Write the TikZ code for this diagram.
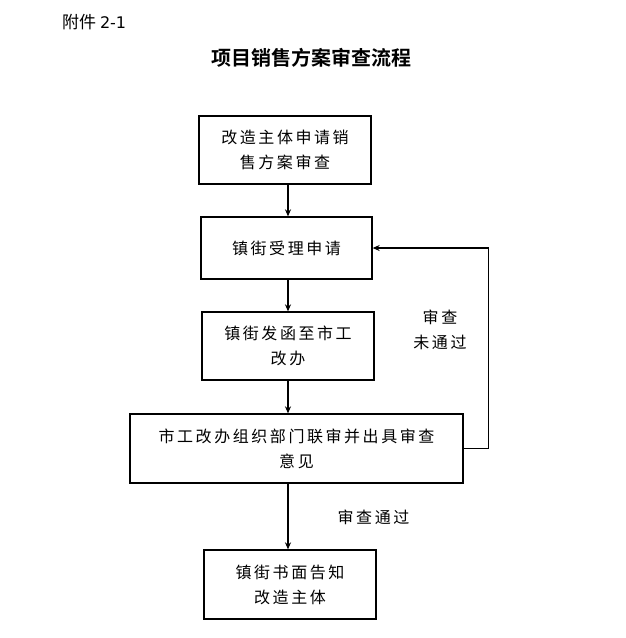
\documentclass[tikz,border=0pt]{standalone}
\usepackage{fontspec}
\newfontfamily\cjk[LetterSpace=16]{Noto Sans CJK SC}
\newfontfamily\cjkplain{Noto Sans CJK SC}
\newfontfamily\cjkbold{Noto Sans CJK SC Bold}
\newfontfamily\digitfont{DejaVu Sans}
\usetikzlibrary{arrows.meta}
\begin{document}
\begin{tikzpicture}[x=1pt,y=-1pt,
  box/.style={draw, line width=1.3pt, inner sep=0pt, align=center,
    font=\cjk\fontsize{16}{25}\selectfont},
  lbl/.style={inner sep=0pt, align=center, font=\cjk\fontsize{16}{25}\selectfont},
  arr/.style={line width=1.5pt, -{Stealth[length=7pt,width=6pt]}}]
\useasboundingbox (0,0) rectangle (625,638);
\node[anchor=west, inner sep=0pt, font=\cjkplain\fontsize{17}{20}\selectfont] (hd) at (62,22) {附件 {\digitfont\fontsize{16}{20}\selectfont 2-1}};
\node[inner sep=0pt, font=\cjkbold\fontsize{20}{24}\selectfont] (title) at (311,58) {项目销售方案审查流程};
\node[box, minimum width=172pt, minimum height=68pt] (b1) at (285,150) {改造主体申请销\\售方案审查};
\node[box, minimum width=171pt, minimum height=62pt] (b2) at (286.5,248) {镇街受理申请};
\node[box, minimum width=172pt, minimum height=68pt] (b3) at (288,346) {镇街发函至市工\\改办};
\node[box, minimum width=333pt, minimum height=69pt] (b4) at (296.5,448.5) {市工改办组织部门联审并出具审查\\意见};
\node[box, minimum width=172pt, minimum height=69pt] (b5) at (290,584.5) {镇街书面告知\\改造主体};
\coordinate (ax) at (288,0);
\draw[arr] (b1.south -| ax) -- (b2.north -| ax);
\draw[arr] (b2.south -| ax) -- (b3.north -| ax);
\draw[arr] (b3.south -| ax) -- (b4.north -| ax);
\draw[arr] (b4.south -| ax) -- (b5.north -| ax);
\draw[arr] (b4.east) -- ++(25,0) |- (b2.east);
\node[lbl] (l1) at (440,329.5) {审查\\未通过};
\node[lbl] (l2) at (373.5,517) {审查通过};
\end{tikzpicture}
\end{document}
